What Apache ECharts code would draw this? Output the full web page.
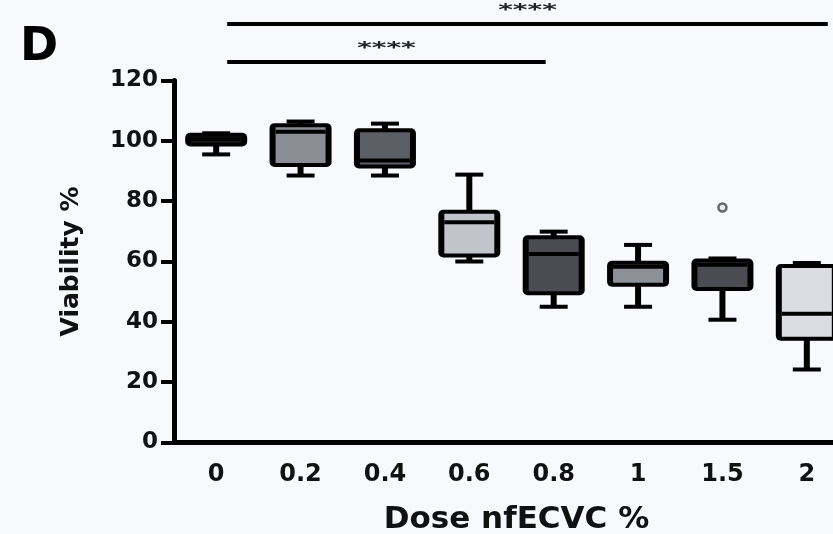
<!DOCTYPE html>
<html>
<head>
<meta charset="utf-8">
<script src="https://cdn.jsdelivr.net/npm/echarts@6/dist/echarts.min.js"></script>
<style>
  html, body { margin: 0; padding: 0; background: #f7f9fc; }
  #chart { width: 833px; height: 534px; }
</style>
</head>
<body>
<div id="chart"></div>
<script>
// dose groups and box statistics
var doses = ['0', '0.2', '0.4', '0.6', '0.8', '1', '1.5', '2'];
var minV = [95.5, 88.5, 88.5, 60, 45, 45, 40.7, 24.2];
var q1V = [98.8, 92, 91.5, 62, 49.5, 52.3, 50.9, 34.4];
var medV = [100.5, 103, 93.5, 73, 62.5, 58.3, 58.9, 42.7];
var q3V = [102, 105.2, 103.5, 76.5, 68, 59.6, 60.3, 58.5];
var maxV = [102.5, 106.4, 105.7, 88.8, 69.9, 65.5, 61, 59.5];
var fills = ['#222222', '#8a8d93', '#5d5f66', '#c2c4cb', '#4a4c52', '#8d9096', '#4a4c52', '#dcdde3'];
var outliers = [['1.5', 77.9]];
var yTicks = [0, 20, 40, 60, 80, 100, 120];
// significance bars: [from, to, label, y in pixels]
var comparisons = [['0', '2', '****', 24], ['0', '0.8', '****', 62]];

var font = 'DejaVu Sans';
var chart = echarts.init(document.getElementById('chart'));

var boxData = doses.map(function (d, i) {
  return [i, minV[i], q1V[i], medV[i], q3V[i], maxV[i]];
});

function renderBox(params, api) {
  var i = api.value(0);
  var lo = api.coord([i, api.value(1)]);
  var q1 = api.coord([i, api.value(2)]);
  var med = api.coord([i, api.value(3)]);
  var q3 = api.coord([i, api.value(4)]);
  var hi = api.coord([i, api.value(5)]);
  var cx = lo[0];
  var half = 31, capHalf = 14;
  var blk = { fill: '#000' };
  return {
    type: 'group',
    children: [
      { type: 'rect', shape: { x: cx - 3, y: hi[1], width: 6, height: q3[1] - hi[1] }, style: blk },
      { type: 'rect', shape: { x: cx - 3, y: q1[1], width: 6, height: lo[1] - q1[1] }, style: blk },
      { type: 'rect', shape: { x: cx - capHalf, y: hi[1] - 2, width: capHalf * 2, height: 4 }, style: blk },
      { type: 'rect', shape: { x: cx - capHalf, y: lo[1] - 2, width: capHalf * 2, height: 4 }, style: blk },
      { type: 'rect', shape: { x: cx - half, y: q3[1] - 2, width: half * 2, height: q1[1] - q3[1] + 4, r: 5 }, style: blk },
      { type: 'rect', shape: { x: cx - half + 6, y: q3[1] + 2, width: half * 2 - 12, height: Math.max(q1[1] - q3[1] - 4, 0) }, style: { fill: fills[i] } },
      { type: 'rect', shape: { x: cx - half + 6, y: med[1] - 2, width: half * 2 - 12, height: 4 }, style: blk }
    ]
  };
}

var option = {
  backgroundColor: '#f7f9fc',
  animation: false,
  grid: { left: 174, width: 675, top: 80.5, bottom: 91.5, outerBoundsMode: 'none', containLabel: false },
  xAxis: {
    type: 'category',
    data: doses,
    name: 'Dose nfECVC %',
    nameLocation: 'middle',
    nameGap: 62,
    nameTextStyle: { fontFamily: font, fontWeight: 'bold', fontSize: 31, color: '#111', padding: [0, 0, 0, 10] },
    axisLine: { lineStyle: { color: '#000', width: 5 } },
    axisTick: { alignWithLabel: true, length: 11, lineStyle: { color: '#000', width: 5 } },
    axisLabel: { fontFamily: font, fontWeight: 'bold', fontSize: 24, color: '#111', margin: 20 },
    splitLine: { show: false }
  },
  yAxis: {
    type: 'value',
    min: 0,
    max: 120,
    interval: 20,
    name: 'Viability %',
    nameLocation: 'middle',
    nameGap: 90,
    nameTextStyle: { fontFamily: font, fontWeight: 'bold', fontSize: 25, color: '#111' },
    axisLine: { show: true, lineStyle: { color: '#000', width: 5 } },
    axisTick: { show: true, length: 13, lineStyle: { color: '#000', width: 4 } },
    axisLabel: {
      fontFamily: font, fontWeight: 'bold', fontSize: 23, color: '#111', margin: 16,
      formatter: function (v) { return yTicks.indexOf(v) >= 0 ? String(v) : ''; }
    },
    splitLine: { show: false }
  },
  series: [
    {
      type: 'custom',
      renderItem: renderBox,
      encode: { x: 0, y: [1, 2, 3, 4, 5] },
      data: boxData,
      z: 3
    },
    {
      type: 'scatter',
      data: outliers,
      symbol: 'circle',
      symbolSize: 8,
      itemStyle: { color: '#e8e9ee', borderColor: '#444', borderWidth: 2.5 },
      z: 4
    }
  ]
};
chart.setOption(option);

// panel letter and significance annotations
var gfx = [{
  type: 'text', left: 20, top: 25,
  style: { text: 'D', fontFamily: font, fontWeight: 'bold', fontSize: 46, fill: '#000' }
}];
comparisons.forEach(function (c) {
  var x1 = chart.convertToPixel({ xAxisIndex: 0 }, c[0]) + 11;
  var x2 = chart.convertToPixel({ xAxisIndex: 0 }, c[1]) + (c[1] === '2' ? 21 : -8);
  var y = c[3];
  gfx.push({
    type: 'line',
    shape: { x1: x1, y1: y, x2: x2, y2: y },
    style: { stroke: '#000', lineWidth: 4 }
  });
  gfx.push({
    type: 'text',
    x: (x1 + x2) / 2, y: y - 21.5,
    scaleY: 0.58,
    style: { text: c[2], fontFamily: font, fontWeight: 'bold', fontSize: 28, fill: '#222', align: 'center', verticalAlign: 'top' }
  });
});
chart.setOption({ graphic: gfx });
</script>
</body>
</html>
